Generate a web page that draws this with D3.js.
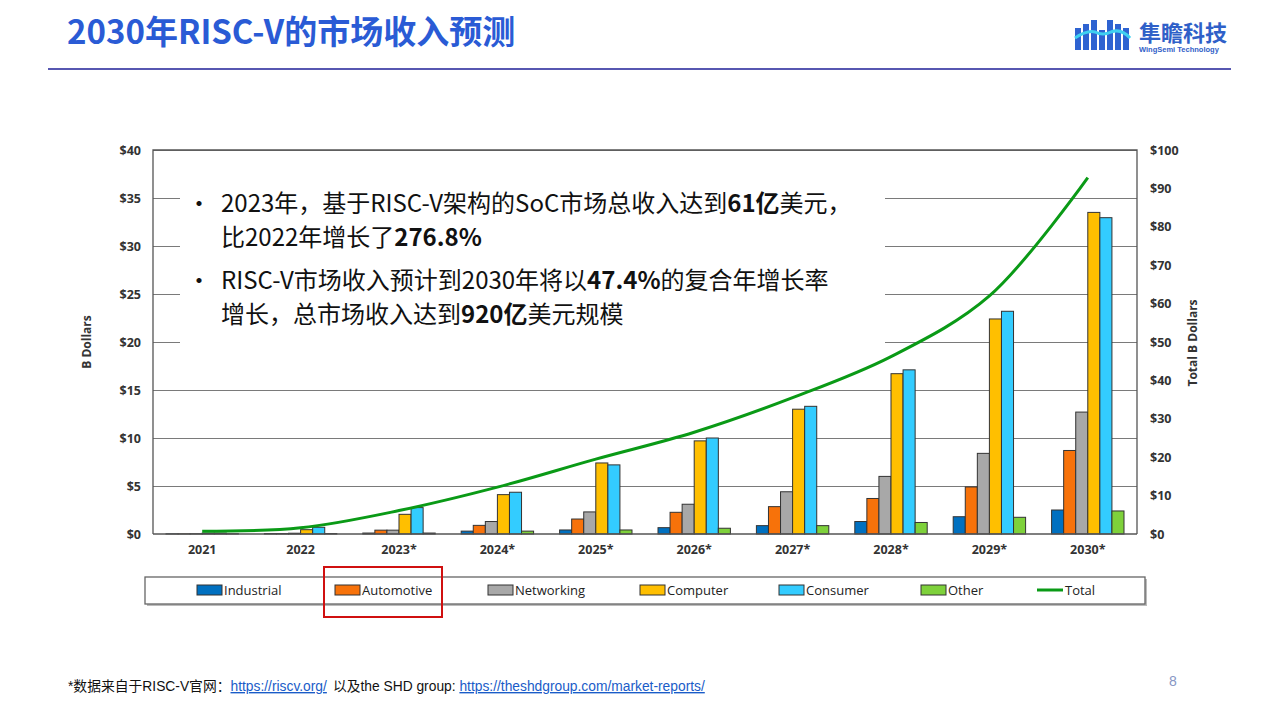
<!DOCTYPE html>
<html>
<head>
<meta charset="utf-8">
<script src="https://cdn.jsdelivr.net/npm/d3@7"></script>
<style>
  body { margin: 0; background: #fff; }
  svg { display: block; }
</style>
</head>
<body>
<div id="chart"></div>
<script>
// values (billions of USD)
var years = ["2021", "2022", "2023*", "2024*", "2025*", "2026*", "2027*", "2028*", "2029*", "2030*"];
var seriesNames = ["Industrial", "Automotive", "Networking", "Computer", "Consumer", "Other"];
var industrial = [0.02, 0.05, 0.1, 0.3, 0.42, 0.66, 0.87, 1.3, 1.8, 2.5];
var automotive = [0.02, 0.05, 0.4, 0.9, 1.56, 2.26, 2.85, 3.7, 4.9, 8.7];
var networking = [0.03, 0.08, 0.4, 1.3, 2.3, 3.1, 4.4, 6.0, 8.4, 12.7];
var computer   = [0.1, 0.45, 2.05, 4.1, 7.4, 9.7, 13.0, 16.7, 22.4, 33.5];
var consumer   = [0.1, 0.7, 2.75, 4.35, 7.2, 10.0, 13.3, 17.1, 23.2, 32.95];
var other      = [0.03, 0.05, 0.1, 0.3, 0.42, 0.6, 0.87, 1.2, 1.74, 2.4];
var total      = [0.7, 1.6, 6.1, 12.2, 19.5, 26.5, 35.5, 46.2, 62, 92.8];
var leftTicks = [0, 5, 10, 15, 20, 25, 30, 35, 40];
var rightTicks = [0, 10, 20, 30, 40, 50, 60, 70, 80, 90, 100];
var colors = ["#0070c0", "#f7720a", "#a8a8a8", "#ffbf00", "#33ccff", "#7ed13b"];

var W = 1268, H = 712;
var svg = d3.select("#chart").append("svg").attr("width", W).attr("height", H);
svg.append("rect").attr("width", W).attr("height", H).attr("fill", "#fff");

var cjk = "'Noto Sans CJK SC', 'Noto Sans', sans-serif";
var narrow = "'Liberation Sans Narrow', 'Open Sans', sans-serif";

// header
svg.append("text")
    .attr("x", 67).attr("y", 44)
    .attr("fill", "#2a5bd5")
    .style("font-family", cjk).style("font-size", "33px").style("font-weight", 700)
    .text("2030年RISC-V的市场收入预测");
svg.append("line")
    .attr("x1", 48).attr("x2", 1231).attr("y1", 69).attr("y2", 69)
    .attr("stroke", "#1f1f97").attr("stroke-width", 1.5);

// logo (simplified)
var logo = svg.append("g").attr("transform", "translate(1075,16)");
[[0, 12, 22], [8, 8, 26], [16, 4, 30], [24, 14, 20], [32, 4, 30], [40, 8, 26], [48, 12, 22]].forEach(function(b) {
    logo.append("rect").attr("x", b[0]).attr("y", b[1]).attr("width", 6).attr("height", b[2]).attr("fill", "#2e63d1");
});
logo.append("path").attr("d", "M0,22 Q12,14 20,16 Q28,20 36,16 Q46,12 55,22")
    .attr("fill", "none").attr("stroke", "#3fd0f0").attr("stroke-width", 3);
svg.append("text").attr("x", 1139).attr("y", 41)
    .attr("fill", "#2f60c8").style("font-family", cjk).style("font-size", "22px").style("font-weight", 700)
    .text("隼瞻科技");
svg.append("text").attr("x", 1139).attr("y", 52)
    .attr("fill", "#2f60c8").style("font-family", "'Liberation Sans', sans-serif").style("font-size", "7.5px").style("font-weight", 700)
    .text("WingSemi Technology");

// chart scales
var plotLeft = 153, plotRight = 1137, plotTop = 150, plotBottom = 534;
var x0 = d3.scaleBand().domain(years).range([plotLeft, plotRight]);
var x1 = d3.scaleBand().domain(seriesNames).range([13, x0.bandwidth() - 13]);
var yL = d3.scaleLinear().domain([0, 40]).range([plotBottom, plotTop]);
var yR = d3.scaleLinear().domain([0, 100]).range([plotBottom, plotTop]);

// gridlines
var grid = svg.append("g").attr("transform", "translate(" + plotLeft + ",0)")
    .call(d3.axisLeft(yL).tickValues(leftTicks.slice(1)).tickSize(-(plotRight - plotLeft)).tickFormat(""));
grid.select(".domain").remove();
grid.selectAll("line").attr("stroke", "#7a7a7a").attr("stroke-width", 1.2);

// plot border
svg.append("path")
    .attr("d", "M" + plotLeft + "," + plotBottom + "V" + plotTop + "H" + plotRight + "V" + plotBottom)
    .attr("fill", "none").attr("stroke", "#555").attr("stroke-width", 1.3);

// bars
var seriesData = [industrial, automotive, networking, computer, consumer, other];
var groups = svg.append("g").selectAll("g")
    .data(years)
  .enter().append("g")
    .attr("transform", function(d) { return "translate(" + x0(d) + ",0)"; });
groups.selectAll("rect")
    .data(function(d, i) {
        return seriesNames.map(function(s, k) { return { name: s, value: seriesData[k][i], color: colors[k] }; });
    })
  .enter().append("rect")
    .attr("x", function(d) { return x1(d.name); })
    .attr("width", x1.bandwidth())
    .attr("y", function(d) { return yL(d.value); })
    .attr("height", function(d) { return plotBottom - yL(d.value); })
    .attr("fill", function(d) { return d.color; })
    .attr("stroke", "#333").attr("stroke-width", 1);

// baseline
svg.append("line").attr("x1", plotLeft).attr("x2", plotRight).attr("y1", plotBottom).attr("y2", plotBottom)
    .attr("stroke", "#555").attr("stroke-width", 1.3);

// total line
var line = d3.line()
    .x(function(d, i) { return x0(years[i]) + x0.bandwidth() / 2; })
    .y(function(d) { return yR(d); })
    .curve(d3.curveCatmullRom.alpha(0.5));
svg.append("path").datum(total)
    .attr("d", line)
    .attr("fill", "none").attr("stroke", "#0a9a16").attr("stroke-width", 3);

// axes labels
var axL = svg.append("g").attr("transform", "translate(" + plotLeft + ",0)")
    .call(d3.axisLeft(yL).tickValues(leftTicks).tickSize(0).tickPadding(12).tickFormat(function(d) { return "$" + d; }));
var axR = svg.append("g").attr("transform", "translate(" + plotRight + ",0)")
    .call(d3.axisRight(yR).tickValues(rightTicks).tickSize(0).tickPadding(13).tickFormat(function(d) { return "$" + d; }));
var axX = svg.append("g").attr("transform", "translate(0," + plotBottom + ")")
    .call(d3.axisBottom(x0).tickSize(0).tickPadding(11));
[axL, axR, axX].forEach(function(a) {
    a.select(".domain").remove();
    a.selectAll("text").attr("fill", "#333")
        .style("font-family", narrow).style("font-size", "12.5px").style("font-weight", 700);
});

svg.append("text")
    .attr("transform", "translate(91,342) rotate(-90)")
    .attr("text-anchor", "middle").attr("fill", "#333")
    .style("font-family", narrow).style("font-size", "12px").style("font-weight", 700)
    .text("B Dollars");
svg.append("text")
    .attr("transform", "translate(1197,343) rotate(-90)")
    .attr("text-anchor", "middle").attr("fill", "#333")
    .style("font-family", narrow).style("font-size", "12px").style("font-weight", 700)
    .text("Total B Dollars");

// annotation box over the chart
svg.append("rect").attr("x", 180).attr("y", 162).attr("width", 705).attr("height", 188).attr("fill", "#fff");
var notes = [
    { y: 212, bullet: true, parts: [["2023年，基于RISC-V架构的SoC市场总收入达到", 400], ["61亿", 700], ["美元，", 400]] },
    { y: 246, bullet: false, parts: [["比2022年增长了", 400], ["276.8%", 700]] },
    { y: 289, bullet: true, parts: [["RISC-V市场收入预计到2030年将以", 400], ["47.4%", 700], ["的复合年增长率", 400]] },
    { y: 323, bullet: false, parts: [["增长，总市场收入达到", 400], ["920亿", 700], ["美元规模", 400]] }
];
notes.forEach(function(n) {
    if (n.bullet) {
        svg.append("text").attr("x", 187).attr("y", n.y).attr("fill", "#111")
            .style("font-family", cjk).style("font-size", "24px").text("•");
    }
    var t = svg.append("text").attr("x", 221).attr("y", n.y).attr("fill", "#111")
        .style("font-family", cjk).style("font-size", "24px");
    n.parts.forEach(function(p) {
        t.append("tspan").style("font-weight", p[1]).text(p[0]);
    });
});

// legend
svg.append("rect").attr("x", 147).attr("y", 579).attr("width", 1000).attr("height", 27).attr("fill", "#bbb");
svg.append("rect").attr("x", 145).attr("y", 577).attr("width", 1000).attr("height", 27)
    .attr("fill", "#fff").attr("stroke", "#666").attr("stroke-width", 1.3);
var legendX = [197, 335, 488, 640, 779, 921];
seriesNames.forEach(function(s, k) {
    svg.append("rect").attr("x", legendX[k]).attr("y", 585).attr("width", 25).attr("height", 10)
        .attr("fill", colors[k]).attr("stroke", "#333").attr("stroke-width", 1);
    svg.append("text").attr("x", legendX[k] + 27).attr("y", 594.5).attr("fill", "#222")
        .style("font-family", narrow).style("font-size", "13px").text(s);
});
svg.append("line").attr("x1", 1037).attr("x2", 1063).attr("y1", 590).attr("y2", 590)
    .attr("stroke", "#0a9a16").attr("stroke-width", 3);
svg.append("text").attr("x", 1065).attr("y", 594.5).attr("fill", "#222")
    .style("font-family", narrow).style("font-size", "13px").text("Total");

// highlight box
svg.append("rect").attr("x", 324).attr("y", 567).attr("width", 118).attr("height", 50)
    .attr("fill", "none").attr("stroke", "#d01010").attr("stroke-width", 2);

// footer
var foot = svg.append("text").attr("x", 68).attr("y", 691).attr("fill", "#111")
    .style("font-family", "'Liberation Sans', " + cjk).style("font-size", "13.8px");
foot.append("tspan").text("*数据来自于RISC-V官网：");
foot.append("tspan").attr("fill", "#1a5cc8").style("text-decoration", "underline").text("https://riscv.org/");
foot.append("tspan").attr("dx", 6).text("以及the SHD group: ");
foot.append("tspan").attr("fill", "#1a5cc8").style("text-decoration", "underline").text("https://theshdgroup.com/market-reports/");

svg.append("text").attr("x", 1169).attr("y", 686).attr("fill", "#8797c4")
    .style("font-family", "'Liberation Sans', sans-serif").style("font-size", "14px").text("8");
</script>
</body>
</html>
